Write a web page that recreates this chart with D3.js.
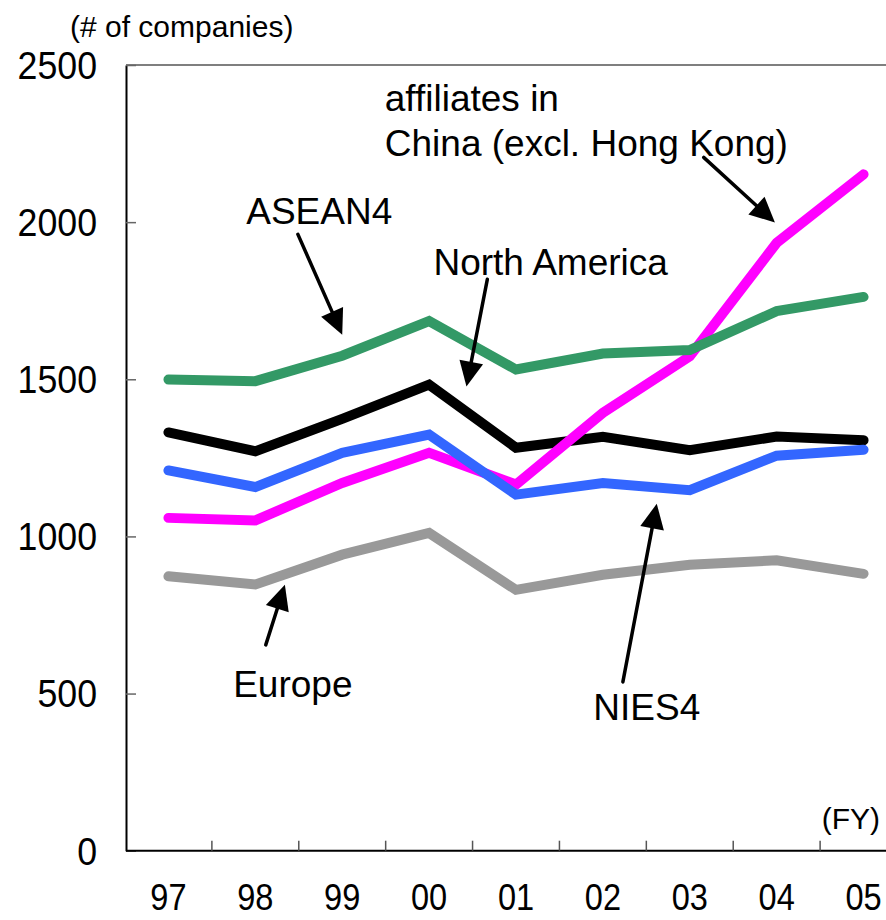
<!DOCTYPE html>
<html>
<head>
<meta charset="utf-8">
<script src="https://cdn.jsdelivr.net/npm/d3@7"></script>
<style>
  html, body { margin: 0; padding: 0; background: #fff; }
  svg { display: block; font-family: "Liberation Sans", Arial, Helvetica, sans-serif; }
</style>
</head>
<body>
<svg id="chart" width="886" height="920"></svg>
<script>
// ---- Data ----
const years = ["97", "98", "99", "00", "01", "02", "03", "04", "05"];
const europe = [873, 847, 942, 1011, 830, 878, 910, 924, 881];
const northAmerica = [1331, 1271, 1374, 1483, 1282, 1317, 1274, 1318, 1306];
const china = [1059, 1051, 1170, 1266, 1165, 1393, 1573, 1934, 2152];
const nies4 = [1210, 1157, 1266, 1324, 1133, 1170, 1147, 1257, 1276];
const asean4 = [1499, 1494, 1575, 1685, 1531, 1582, 1593, 1717, 1762];
const yTicks = [0, 500, 1000, 1500, 2000, 2500];

const series = [
  { name: "Europe", values: europe, color: "#999999" },
  { name: "North America", values: northAmerica, color: "#000000" },
  { name: "China", values: china, color: "#FF00FF" },
  { name: "NIES4", values: nies4, color: "#3366FF" },
  { name: "ASEAN4", values: asean4, color: "#339966" }
];

// annotations in data space: [year index, value]
const labels = [
  { lines: ["affiliates in", "China (excl. Hong Kong)"], at: [2.49, 2353], dy: 45 },
  { lines: ["ASEAN4"], at: [0.895, 1993] },
  { lines: ["North America"], at: [3.05, 1833] },
  { lines: ["Europe"], at: [0.745, 489] },
  { lines: ["NIES4"], at: [4.89, 416] }
];
const arrows = [
  { from: [1.49, 1961], to: [2.0, 1642] },
  { from: [3.67, 1818], to: [3.43, 1477] },
  { from: [6.16, 2206], to: [6.98, 1999] },
  { from: [1.12, 655], to: [1.34, 846] },
  { from: [5.23, 537], to: [5.62, 1104] }
];

// ---- Scales ----
const svg = d3.select("#chart");
const x = d3.scaleBand().domain(years).range([125, 907]).paddingInner(0).paddingOuter(0);
const xi = d3.scaleLinear().domain([0, years.length - 1])
  .range([x(years[0]) + x.bandwidth() / 2, x(years[years.length - 1]) + x.bandwidth() / 2]);
const y = d3.scaleLinear().domain([0, 2500]).range([850.7, 65]);
const axisX = 126;

// top border
svg.append("line").attr("x1", axisX).attr("x2", 886).attr("y1", y(2500)).attr("y2", y(2500))
  .attr("stroke", "#555").attr("stroke-width", 1.5);

// y axis
const gy = svg.append("g").attr("transform", `translate(${axisX},0)`)
  .call(d3.axisLeft(y).tickValues(yTicks).tickSize(0).tickPadding(0).tickFormat(d3.format("d")));
gy.select(".domain").attr("stroke", "#000").attr("stroke-width", 2);
gy.selectAll(".tick text")
  .attr("font-size", 38).attr("fill", "#000").attr("text-anchor", "end")
  .attr("x", -29 / 0.94).attr("dy", "0.35em")
  .attr("font-family", '"Liberation Sans", Arial, sans-serif')
  .attr("transform", "scale(0.94,1)");
gy.selectAll(".tick").append("line").attr("x1", 0).attr("x2", 10)
  .attr("stroke", "#666").attr("stroke-width", 1.5);

// x axis
const gx = svg.append("g").attr("transform", `translate(0,${y(0)})`)
  .call(d3.axisBottom(x).tickSize(0).tickPadding(0));
gx.select(".domain").attr("stroke", "#000").attr("stroke-width", 2).attr("d", `M${axisX},0H886`);
gx.selectAll(".tick text")
  .attr("font-size", 37).attr("fill", "#000").attr("y", 59).attr("dy", 0)
  .attr("font-family", '"Liberation Sans", Arial, sans-serif')
  .attr("transform", "scale(0.88,1)");
// boundary ticks between categories
svg.append("g").selectAll("line").data(years.slice(1)).join("line")
  .attr("x1", d => x(d)).attr("x2", d => x(d))
  .attr("y1", y(0)).attr("y2", y(0) - 10)
  .attr("stroke", "#555").attr("stroke-width", 1.5);

// axis titles
svg.append("text").attr("x", 70).attr("y", 37).attr("font-size", 30).text("(# of companies)");
svg.append("text").attr("x", 880).attr("y", 829).attr("font-size", 30).attr("text-anchor", "end").text("(FY)");

// ---- Lines ----
const line = d3.line().x((d, i) => x(years[i]) + x.bandwidth() / 2).y(d => y(d));
svg.append("g").selectAll("path").data(series).join("path")
  .attr("d", d => line(d.values))
  .attr("fill", "none")
  .attr("stroke", d => d.color)
  .attr("stroke-width", 10)
  .attr("stroke-linecap", "round")
  .attr("stroke-linejoin", "miter");

// ---- Annotations ----
const ag = svg.append("g");
arrows.forEach(a => {
  const x1 = xi(a.from[0]), y1 = y(a.from[1]);
  const x2 = xi(a.to[0]), y2 = y(a.to[1]);
  const dx = x2 - x1, dy = y2 - y1, len = Math.hypot(dx, dy);
  const ux = dx / len, uy = dy / len;
  const hl = 25, hw = 12;
  const bx = x2 - ux * hl, by = y2 - uy * hl;
  ag.append("line").attr("x1", x1).attr("y1", y1).attr("x2", bx + ux * 2).attr("y2", by + uy * 2)
    .attr("stroke", "#000").attr("stroke-width", 3.5).attr("stroke-linecap", "round");
  ag.append("path")
    .attr("d", `M${x2},${y2}L${bx - uy * hw},${by + ux * hw}L${bx + uy * hw},${by - ux * hw}Z`)
    .attr("fill", "#000");
});

labels.forEach(l => {
  const t = svg.append("text").attr("x", xi(l.at[0])).attr("y", y(l.at[1]))
    .attr("font-size", 37).attr("fill", "#000");
  l.lines.forEach((s, i) => {
    t.append("tspan").attr("x", xi(l.at[0])).attr("dy", i === 0 ? 0 : (l.dy || 45)).text(s);
  });
});
</script>
</body>
</html>
